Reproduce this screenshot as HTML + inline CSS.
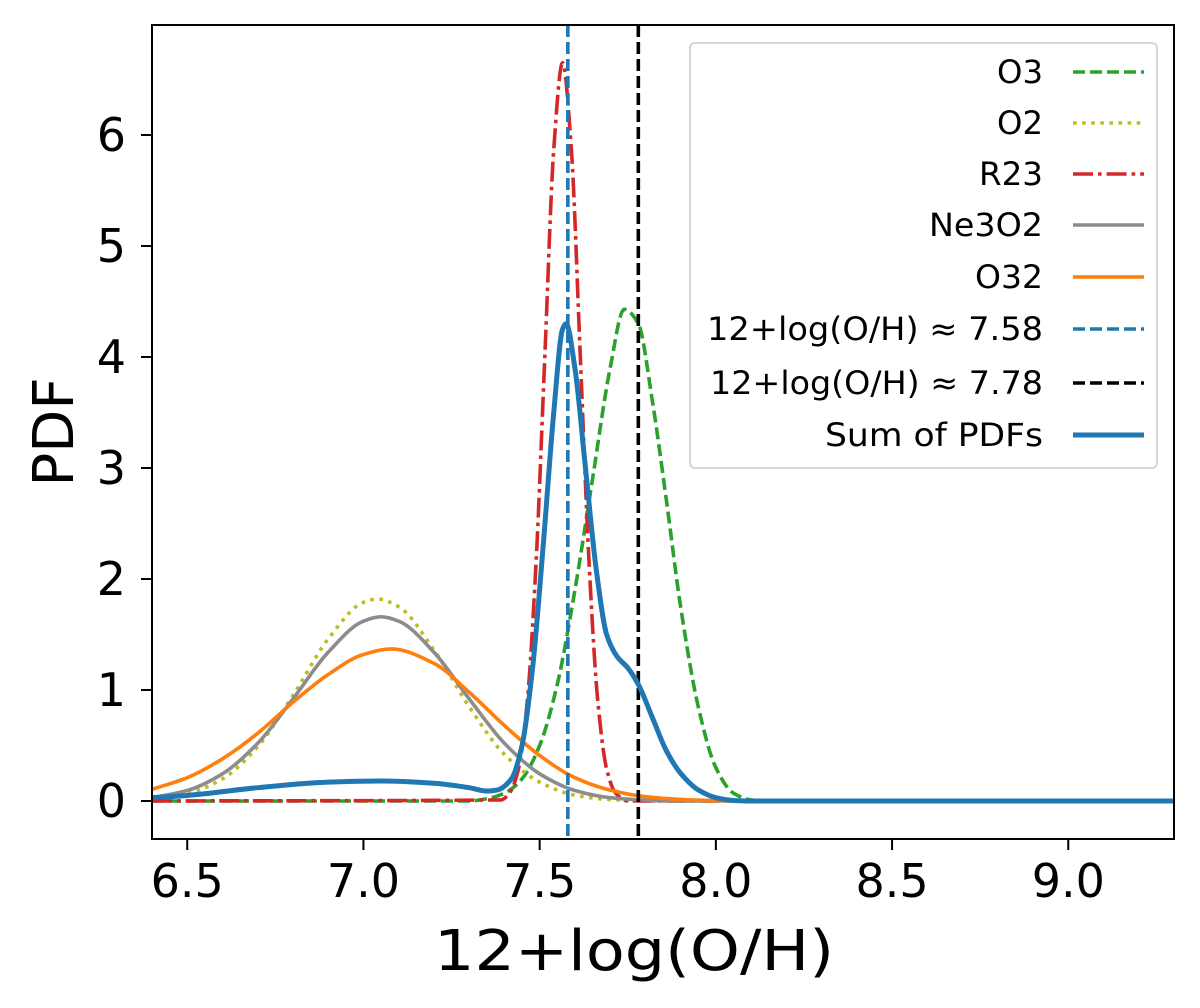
<!DOCTYPE html>
<html><head><meta charset="utf-8"><style>
html,body{margin:0;padding:0;background:#fff}
svg{display:block;font-family:"DejaVu Sans","Liberation Sans",sans-serif}
</style></head><body>
<svg id="chart" width="1200" height="1008" viewBox="0 0 1200 1008">
<rect x="0" y="0" width="1200" height="1008" fill="#fff"/>
<defs><clipPath id="clip"><rect x="152" y="25" width="1022" height="814"/></clipPath></defs>
<g id="series" clip-path="url(#clip)"></g>
<g id="axes"></g>
<g id="legend"></g>
</svg>
<script>
const xTicks = [6.5, 7.0, 7.5, 8.0, 8.5, 9.0];
const yTicks = [0, 1, 2, 3, 4, 5, 6];
const o3X = [6.4, 7.30, 7.35, 7.40, 7.45, 7.50, 7.55, 7.60, 7.65, 7.70, 7.74, 7.78, 7.82, 7.86, 7.90, 7.95, 8.00, 8.05, 8.10, 8.15, 9.3];
const o3Y = [0, 0, 0.02, 0.07, 0.2, 0.5, 1.05, 1.9, 2.9, 3.9, 4.43, 4.3, 3.6, 2.7, 1.75, 0.85, 0.3, 0.07, 0.01, 0, 0];
const o2X = [6.4, 6.5, 6.6, 6.7, 6.8, 6.9, 7.0, 7.04, 7.1, 7.2, 7.3, 7.4, 7.5, 7.6, 7.7, 7.8, 7.9, 9.3];
const o2Y = [0.017, 0.066, 0.2, 0.49, 0.95, 1.46, 1.79, 1.82, 1.75, 1.36, 0.85, 0.42, 0.17, 0.052, 0.013, 0.003, 0, 0];
const r23X = [6.4, 7.39, 7.415, 7.44, 7.465, 7.49, 7.515, 7.54, 7.565, 7.59, 7.615, 7.64, 7.665, 7.69, 7.715, 7.75, 9.3];
const r23Y = [0, 0.01, 0.074, 0.29, 0.9, 2.16, 4.03, 5.87, 6.65, 5.87, 4.03, 2.16, 0.9, 0.29, 0.074, 0, 0];
const ne3o2X = [6.4, 6.5, 6.6, 6.7, 6.8, 6.9, 7.0, 7.05, 7.1, 7.2, 7.3, 7.4, 7.5, 7.6, 7.7, 7.8, 7.9, 9.3];
const ne3o2Y = [0.03, 0.095, 0.245, 0.52, 0.92, 1.34, 1.62, 1.66, 1.62, 1.34, 0.92, 0.52, 0.245, 0.095, 0.03, 0.008, 0, 0];
const o32X = [6.4, 6.5, 6.6, 6.7, 6.8, 6.9, 7.0, 7.08, 7.2, 7.3, 7.4, 7.5, 7.6, 7.7, 7.8, 7.9, 8.0, 8.1, 9.3];
const o32Y = [0.105, 0.21, 0.38, 0.61, 0.89, 1.14, 1.32, 1.37, 1.24, 0.98, 0.68, 0.41, 0.21, 0.098, 0.039, 0.014, 0.003, 0, 0];
const sumX = [6.4, 6.5, 6.7, 6.9, 7.05, 7.2, 7.3, 7.35, 7.38, 7.42, 7.45, 7.48, 7.51, 7.54, 7.565, 7.575, 7.6, 7.63, 7.66, 7.69, 7.72, 7.75, 7.78, 7.82, 7.86, 7.9, 7.95, 8.0, 8.05, 8.1, 9.3];
const sumY = [0.03, 0.05, 0.12, 0.17, 0.18, 0.16, 0.12, 0.09, 0.1, 0.2, 0.5, 1.2, 2.3, 3.5, 4.25, 4.3, 3.9, 3.0, 2.1, 1.5, 1.3, 1.2, 1.05, 0.75, 0.45, 0.25, 0.1, 0.03, 0.005, 0, 0];
const vlineValues = [7.58, 7.78];

const NS = "http://www.w3.org/2000/svg";
const X0 = 152, X1 = 1174, XMIN = 6.4, XMAX = 9.3;
const Y0PX = 801, YPU = 111;
function sx(v){ return X0 + (v - XMIN) / (XMAX - XMIN) * (X1 - X0); }
function sy(v){ return Y0PX - v * YPU; }
function mk(tag, attrs, parent){ const e = document.createElementNS(NS, tag); for (const k in attrs) e.setAttribute(k, attrs[k]); parent.appendChild(e); return e; }
function smoothPath(xs, ys){
  const px = xs.map(sx), py = ys.map(sy), n = px.length;
  const d = [], m = new Array(n);
  for (let i = 0; i < n - 1; i++) d.push((py[i+1]-py[i])/(px[i+1]-px[i]));
  m[0] = d[0]; m[n-1] = d[n-2];
  for (let i = 1; i < n - 1; i++){
    if (d[i-1]*d[i] <= 0) m[i] = 0;
    else { const h0 = px[i]-px[i-1], h1 = px[i+1]-px[i]; const w1 = 2*h1+h0, w2 = h1+2*h0; m[i] = (w1+w2)/(w1/d[i-1]+w2/d[i]); }
  }
  let s = "M" + px[0].toFixed(2) + "," + py[0].toFixed(2);
  for (let i = 0; i < n - 1; i++){
    const h = px[i+1]-px[i];
    s += " C" + (px[i]+h/3).toFixed(2) + "," + (py[i]+m[i]*h/3).toFixed(2) + " " + (px[i+1]-h/3).toFixed(2) + "," + (py[i+1]-m[i+1]*h/3).toFixed(2) + " " + px[i+1].toFixed(2) + "," + py[i+1].toFixed(2);
  }
  return s;
}
const g = document.getElementById("series");
const ax = document.getElementById("axes");
const lg = document.getElementById("legend");

const series = [
  {x: o3X, y: o3Y, c: "#2ca02c", w: 3.6, dash: "12,5", n: "o3-curve"},
  {x: o2X, y: o2Y, c: "#bcbd22", w: 3.6, dash: "3.6,5.5", n: "o2-curve"},
  {x: r23X, y: r23Y, c: "#d62728", w: 3.6, dash: "20,5,3.6,5", n: "r23-curve"},
  {x: ne3o2X, y: ne3o2Y, c: "#8c8c8c", w: 3.6, dash: "", n: "ne3o2-curve"},
  {x: o32X, y: o32Y, c: "#ff7f0e", w: 3.6, dash: "", n: "o32-curve"}
];
series.forEach(s => {
  const p = mk("path", {d: smoothPath(s.x, s.y), fill: "none", stroke: s.c, "stroke-width": s.w, "stroke-dasharray": s.dash, "stroke-linejoin": "round"}, g);
  
  
});
const vcol = ["#1f77b4", "#000"];
vlineValues.forEach((v, i) => {
  const l = mk("line", {x1: sx(v), x2: sx(v), y1: 25, y2: 839, stroke: vcol[i], "stroke-width": 3.6, "stroke-dasharray": "12,5"}, g);
  
  
});
const sp = mk("path", {d: smoothPath(sumX, sumY), fill: "none", stroke: "#1f77b4", "stroke-width": 5, "stroke-linejoin": "round"}, g);



const fr = mk("rect", {x: 152, y: 25, width: 1022, height: 814, fill: "none", stroke: "#000", "stroke-width": 2}, ax);


xTicks.forEach(t => {
  const x = sx(t);
  const tl = mk("line", {x1: x, x2: x, y1: 839, y2: 850, stroke: "#000", "stroke-width": 2}, ax);
  
  
  const tx = mk("text", {x: x, y: 897, "text-anchor": "middle", "font-size": 46, fill: "#000"}, ax);
  tx.textContent = t.toFixed(1);
  
  
});
yTicks.forEach(t => {
  const y = sy(t);
  const tl = mk("line", {x1: 141, x2: 152, y1: y, y2: y, stroke: "#000", "stroke-width": 2}, ax);
  
  
  const tx = mk("text", {x: 126, y: y + 16, "text-anchor": "end", "font-size": 46, fill: "#000"}, ax);
  tx.textContent = String(t);
  
  
});
const xl = mk("text", {x: 634, y: 970, "text-anchor": "middle", "font-size": 56, fill: "#000", textLength: 400, lengthAdjust: "spacingAndGlyphs"}, ax);
xl.textContent = "12+log(O/H)";


const yl = mk("text", {x: 0, y: 0, "text-anchor": "middle", "font-size": 56, fill: "#000", transform: "translate(73,432) rotate(-90)"}, ax);
yl.textContent = "PDF";



const lb = mk("rect", {x: 690, y: 43, width: 467, height: 425, rx: 5, fill: "#fff", "fill-opacity": 0.8, stroke: "#d5d5d5", "stroke-width": 2}, lg);


const legLabels = ["O3", "O2", "R23", "Ne3O2", "O32", "12+log(O/H) \u2248 7.58", "12+log(O/H) \u2248 7.78", "Sum of PDFs"];
const legStyle = [
  ["#2ca02c", 3.6, "12,5"], ["#bcbd22", 3.6, "3.6,5.5"], ["#d62728", 3.6, "20,5,3.6,5"], ["#8c8c8c", 3.6, ""],
  ["#ff7f0e", 3.6, ""], ["#1f77b4", 3.6, "12,5"], ["#000", 3.6, "12,5"], ["#1f77b4", 5, ""]
];
const legY = [72, 123, 174, 225, 277, 329, 383, 435];
const legW = [46, 46, 64, 114, 68, 336, 333, 218];
legLabels.forEach((lab, i) => {
  const y = legY[i];
  const st = legStyle[i];
  const ln = mk("line", {x1: 1073, x2: 1144, y1: y, y2: y, stroke: st[0], "stroke-width": st[1], "stroke-dasharray": st[2]}, lg);
  
  
  const tx = mk("text", {x: 1043, y: y + 11, "text-anchor": "end", "font-size": 32, fill: "#000", textLength: legW[i], lengthAdjust: "spacingAndGlyphs"}, lg);
  tx.textContent = lab;
  
  
});
</script>
</body></html>
